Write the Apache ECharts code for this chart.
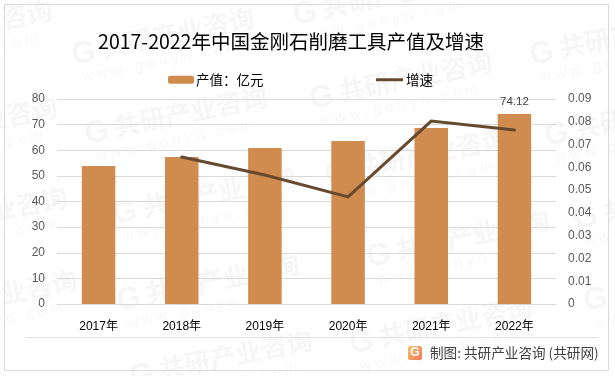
<!DOCTYPE html>
<html><head><meta charset="utf-8">
<style>html,body{margin:0;padding:0;background:#fff}#c{width:615px;height:376px}</style>
<script src="https://cdn.jsdelivr.net/npm/echarts@6/dist/echarts.min.js"></script>
</head><body><div id="c"></div>
<script>
const categories = ['2017年','2018年','2019年','2020年','2021年','2022年'];
const outputValues = [53.9, 57.4, 60.9, 63.6, 68.7, 74.12];
const growthRates = [null, 0.0645, 0.0566, 0.047, 0.0803, 0.0764];
const titleText = '2017-2022年中国金刚石削磨工具产值及增速';
const footerText = '制图: 共研产业咨询 (共研网)';
const marks = [[72,56],[85,135],[310,100],[530,56],[545,137],[325,176],[113,215],[117,302],[130,378],[350,345],[367,258],[574,220],[584,302],[293,16],[-130,48],[-125,145],[-115,235],[-105,318]];
const CJK = '"Noto Sans CJK SC","Noto Sans",sans-serif';
const LAT = '"Liberation Sans","Noto Sans CJK SC",sans-serif';

const watermarks = marks.map(m => ({
  type:'group', x:m[0], y:m[1], rotation:0.2, silent:true, z:0,
  children:[
    {type:'text', x:0, y:-15, style:{text:'G', font:'bold 31px "Liberation Sans"', fill:'#f6f6f6'}},
    {type:'text', x:30, y:-15, style:{text:'共研产业咨询', font:'bold 26px '+CJK, fill:'#f6f6f6'}},
    {type:'text', x:6, y:16, style:{text:'w w w . g o n y n . c o m', font:'15px "Liberation Sans"', fill:'#f7f7f7'}}
  ]
}));

const chart = echarts.init(document.getElementById('c'), null, {renderer:'canvas'});
chart.setOption({
  animation:false,
  backgroundColor:'#fff',
  title:{text:titleText, left:286, top:27, textAlign:'center',
    textStyle:{fontFamily:CJK, fontSize:19.5, fontWeight:'normal', color:'#000'}},
  legend:[
    {data:['产值：亿元'], left:168, top:73, padding:0, itemWidth:26, itemHeight:8, itemGap:0,
     textStyle:{fontFamily:CJK, fontSize:13.5, color:'#000', padding:[0,0,0,-3]}},
    {data:[{name:'增速', icon:'rect'}], left:376, top:73, padding:0, itemWidth:27, itemHeight:3, itemGap:0,
     textStyle:{fontFamily:CJK, fontSize:13.5, color:'#000', padding:[0,0,0,-2]}}
  ],
  grid:{left:57, right:59, top:99, bottom:72},
  xAxis:{type:'category', data:categories,
    axisLine:{lineStyle:{color:'#d9d9d9'}}, axisTick:{show:false},
    axisLabel:{fontFamily:LAT, fontSize:12, color:'#000', margin:17}},
  yAxis:[
    {type:'value', min:0, max:80, interval:10, position:'left',
     axisLine:{show:false}, axisTick:{show:false},
     splitLine:{lineStyle:{color:'#d9d9d9', width:1}},
     axisLabel:{fontFamily:LAT, fontSize:12, color:'#595959', margin:12}},
    {type:'value', min:0, max:0.09, interval:0.01, position:'right',
     axisLine:{show:false}, axisTick:{show:false}, splitLine:{show:false},
     axisLabel:{fontFamily:LAT, fontSize:12, color:'#595959', margin:12}}
  ],
  series:[
    {name:'产值：亿元', type:'bar', data:outputValues, barWidth:33.5,
     itemStyle:{color:'#D08B4E'},
     label:{show:true, position:'top', distance:6, fontFamily:LAT, fontSize:11.5, color:'#404040',
       formatter:p => p.dataIndex===outputValues.length-1 ? p.value : ''}},
    {name:'增速', type:'line', yAxisIndex:1, data:growthRates, symbol:'none',
     lineStyle:{color:'#654A30', width:3, cap:'round', join:'miter'}, itemStyle:{color:'#654A30'}}
  ],
  graphic:[
    ...watermarks,
    {type:'rect', silent:true, z:1, shape:{x:4.5,y:4.5,width:604,height:366}, style:{fill:'none', stroke:'#d9d9d9', lineWidth:1}},
    {type:'line', silent:true, z:1, shape:{x1:26,y1:337.5,x2:598,y2:337.5}, style:{stroke:'#e2e2e2', lineWidth:1}},
    {type:'rect', silent:true, z:1, shape:{x:408,y:346,width:14,height:14,r:2},
     style:{fill:new echarts.graphic.LinearGradient(0,0,1,1,[{offset:0,color:'#F9C06A'},{offset:1,color:'#F2785A'}])}},
    {type:'text', silent:true, z:2, x:415, y:353, style:{text:'G', font:'bold 12px "Liberation Sans"', fill:'#fff', align:'center', verticalAlign:'middle'}},
    {type:'text', silent:true, z:2, x:430, y:353, style:{text:footerText, font:'13.6px '+CJK, fill:'#404040', verticalAlign:'middle'}}
  ]
});
</script></body></html>
